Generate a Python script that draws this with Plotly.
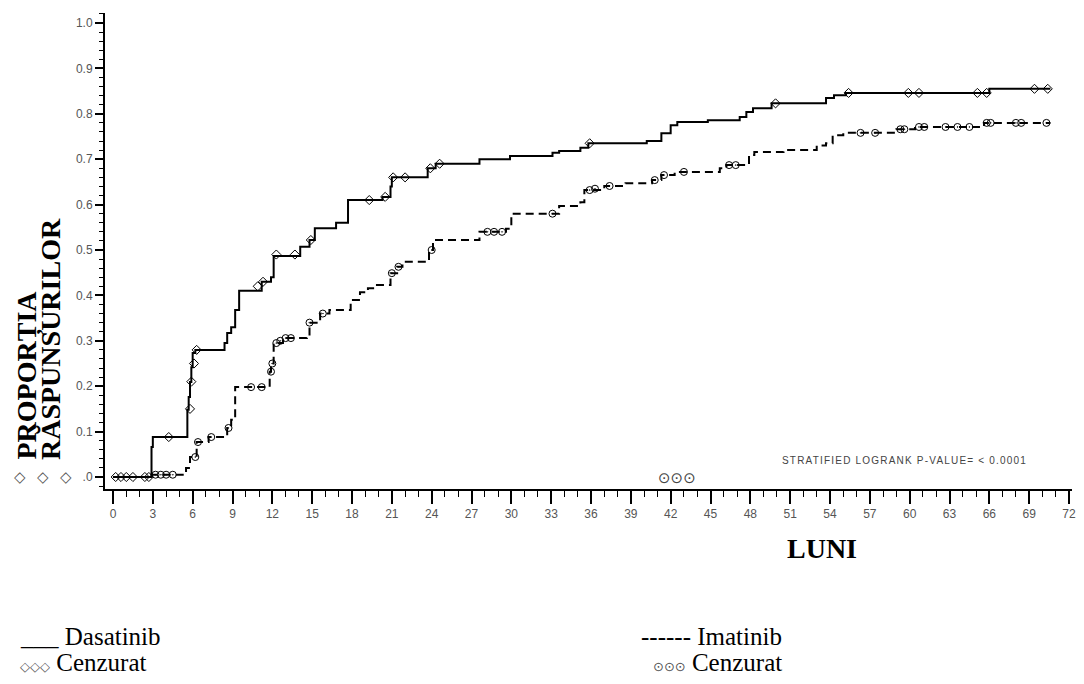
import plotly.graph_objects as go

# ---------------- data ----------------
# Dasatinib: step function (month of change, cumulative proportion)
das_months = [0, 2.9, 3.0, 5.6, 5.7, 5.8, 5.9, 6.0, 6.2, 8.4, 8.6, 8.9, 9.2, 9.5, 11.2, 11.9, 12.1,
              14.1, 14.8, 15.2, 16.8, 17.7, 20.3, 20.9, 21.0, 23.7, 24.3, 27.6, 29.9, 33.1, 33.6,
              35.2, 35.8, 40.2, 41.3, 42.0, 42.5, 44.8, 47.2, 47.7, 48.2, 49.6, 53.7, 54.3, 55.2,
              66.0, 70.6]
das_values = [0, 0.066, 0.088, 0.148, 0.176, 0.209, 0.242, 0.273, 0.28, 0.295, 0.317, 0.33, 0.368,
              0.41, 0.43, 0.44, 0.487, 0.507, 0.522, 0.548, 0.56, 0.61, 0.617, 0.64, 0.66, 0.68,
              0.69, 0.70, 0.707, 0.714, 0.718, 0.725, 0.735, 0.74, 0.757, 0.775, 0.782, 0.786,
              0.793, 0.804, 0.812, 0.823, 0.835, 0.841, 0.846, 0.855, 0.855]

das_cens_months = [0.2, 0.6, 1.0, 1.5, 2.4, 2.7, 4.2, 5.8, 5.9, 6.1, 6.3, 10.9, 11.3, 12.3, 13.7,
                   14.9, 19.3, 20.5, 21.1, 22.0, 23.9, 24.6, 35.9, 49.9, 55.4, 59.9, 60.7, 65.1,
                   65.8, 69.4, 70.4]
das_cens_values = [0, 0, 0, 0, 0, 0, 0.088, 0.15, 0.21, 0.25, 0.28, 0.42, 0.43, 0.49, 0.49,
                   0.522, 0.61, 0.617, 0.66, 0.66, 0.68, 0.69, 0.735, 0.823, 0.846, 0.846, 0.846,
                   0.846, 0.846, 0.855, 0.855]

# Imatinib
ima_months = [0, 2.9, 5.5, 5.8, 6.3, 7.2, 8.6, 8.9, 9.2, 11.8, 11.9, 12.1, 12.8, 14.6, 14.8, 15.6,
              16.3, 17.9, 18.6, 19.2, 19.8, 20.9, 21.4, 21.8, 23.8, 24.1, 27.6, 29.6, 30.0, 33.6,
              35.2, 35.5, 37.0, 38.6, 40.6, 41.3, 42.3, 45.7, 46.2, 47.9, 48.3, 50.5, 53.0, 53.7,
              54.2, 55.0, 59.0, 60.4, 65.6, 70.6]
ima_values = [0, 0.005, 0.02, 0.044, 0.077, 0.088, 0.108, 0.126, 0.198, 0.232, 0.25, 0.295, 0.306,
              0.31, 0.34, 0.36, 0.368, 0.39, 0.407, 0.416, 0.423, 0.449, 0.463, 0.474, 0.50, 0.522,
              0.54, 0.547, 0.58, 0.597, 0.605, 0.632, 0.641, 0.647, 0.654, 0.665, 0.672, 0.68,
              0.687, 0.709, 0.716, 0.72, 0.73, 0.735, 0.753, 0.758, 0.766, 0.771, 0.78, 0.78]

ima_cens_months = [3.2, 3.6, 4.0, 4.5, 6.2, 6.4, 7.4, 8.7, 10.4, 11.2, 11.9, 12.0, 12.3, 12.6, 13.0,
                   13.4, 14.8, 15.8, 21.0, 21.5, 24.0, 28.2, 28.7, 29.3, 33.1, 35.9, 36.3, 37.4,
                   40.8, 41.5, 43.0, 46.4, 46.9, 56.3, 57.4, 59.3, 59.6, 60.7, 61.1, 62.7, 63.6,
                   64.5, 65.8, 66.1, 68.0, 68.4, 70.3]
ima_cens_values = [0.005, 0.005, 0.005, 0.005, 0.044, 0.077, 0.088, 0.108, 0.198, 0.198, 0.232,
                   0.25, 0.295, 0.3, 0.306, 0.306, 0.34, 0.36, 0.449, 0.463, 0.50, 0.54, 0.54, 0.54,
                   0.58, 0.632, 0.635, 0.641, 0.654, 0.665, 0.672, 0.687, 0.687, 0.758, 0.758,
                   0.766, 0.766, 0.771, 0.771, 0.771, 0.771, 0.771, 0.78, 0.78, 0.78, 0.78, 0.78]

x_ticks = list(range(0, 73, 3))
y_tickvals = [round(i * 0.1, 1) for i in range(11)]
y_ticktext = [".0", "0.1", "0.2", "0.3", "0.4", "0.5", "0.6", "0.7", "0.8", "0.9", "1.0"]

# ---------------- layout geometry ----------------
# the page body adds an 8px margin, so the figure is drawn 8px smaller and positions
# below are given in window pixels and shifted by OFF.
OFF = 8
W, H = 1084 - OFF, 684 - OFF
PLOT_L, PLOT_R, PLOT_T, PLOT_B = 105, 1072, 13, 489   # window pixels
ML, MR, MT, MB = PLOT_L - OFF, 1084 - PLOT_R, PLOT_T - OFF, 684 - PLOT_B
PW, PH = W - ML - MR, H - MT - MB


def px(xp):
    return (xp - PLOT_L) / PW


def py(yp):
    return (PLOT_B - yp) / PH


fig = go.Figure()

fig.add_trace(go.Scatter(x=das_months, y=das_values, mode="lines", line_shape="hv",
                         line=dict(color="black", width=2), showlegend=False))
fig.add_trace(go.Scatter(x=ima_months, y=ima_values, mode="lines", line_shape="hv",
                         line=dict(color="black", width=2, dash="8px,5px"), showlegend=False))
fig.add_trace(go.Scatter(x=das_cens_months, y=das_cens_values, mode="markers",
                         marker=dict(symbol="diamond-open", size=7, color="black",
                                     line=dict(width=1)), showlegend=False))
fig.add_trace(go.Scatter(x=ima_cens_months, y=ima_cens_values, mode="markers",
                         marker=dict(symbol="circle-open-dot", size=7, color="black",
                                     line=dict(width=1)), showlegend=False))

tickfont = dict(family="Liberation Sans, Arial", size=12, color="#555555")

# month 0 -> window px 113, month 72 -> window px 1069
ppm = (1069 - 113) / 72
x_lo = (PLOT_L - 113) / ppm
x_hi = 72 + (PLOT_R - 1069) / ppm
# value 0 -> window py 477, value 1 -> py 23
ppv = 454
y_lo = -(PLOT_B - 477) / ppv
y_hi = 1 + (23 - PLOT_T) / ppv

fig.update_xaxes(range=[x_lo, x_hi], tickvals=x_ticks, ticks="outside", ticklen=13, tickwidth=2,
                 tickcolor="black", showline=True, linecolor="black", linewidth=2,
                 showgrid=False, zeroline=False, tickfont=tickfont, ticklabeloverflow="allow",
                 minor=dict(dtick=1, tick0=0, ticks="outside", ticklen=6, tickwidth=1,
                            tickcolor="black", showgrid=False))
fig.update_yaxes(range=[y_lo, y_hi], tickvals=y_tickvals, ticktext=y_ticktext,
                 ticks="outside", ticklen=8, tickwidth=2, tickcolor="black", showline=True,
                 linecolor="black", linewidth=2, showgrid=False, zeroline=False,
                 tickfont=tickfont,
                 minor=dict(dtick=0.02, tick0=0, ticks="outside", ticklen=4, tickwidth=1,
                            tickcolor="black", showgrid=False))

serif = "Liberation Serif, Times New Roman, serif"
ann = []
ann.append(dict(x=px(27), y=py(462), text="<b>PROPORȚIA</b>", textangle=-90, showarrow=False,
                xanchor="center", yanchor="bottom", font=dict(family=serif, size=28, color="black")))
ann.append(dict(x=px(50), y=py(462), text="<b>RĂSPUNSURILOR</b>", textangle=-90,
                showarrow=False, xanchor="center", yanchor="bottom",
                font=dict(family=serif, size=28, color="black")))
ann.append(dict(x=px(822), y=py(548), text="<b>LUNI</b>", showarrow=False, xanchor="center",
                yanchor="middle", font=dict(family=serif, size=28, color="black")))
ann.append(dict(x=px(780), y=py(460),
                text="<span style='letter-spacing:1.2px'>STRATIFIED LOGRANK P-VALUE= &lt; 0.0001</span>",
                showarrow=False, xanchor="left", yanchor="middle",
                font=dict(family="Liberation Sans, Arial", size=10, color="#444444")))
ann.append(dict(x=px(677), y=py(478), text="⊙⊙⊙", showarrow=False, xanchor="center",
                yanchor="middle", font=dict(family="DejaVu Sans", size=15, color="#444444")))
for cx in (20, 43, 66):
    ann.append(dict(x=px(cx), y=py(477), text="◇", showarrow=False, xanchor="center",
                    yanchor="middle", font=dict(family="DejaVu Sans", size=15, color="#555555")))
# bottom legend text
ann.append(dict(x=px(18), y=py(636), text="___ Dasatinib", showarrow=False, xanchor="left",
                yanchor="middle", font=dict(family=serif, size=25, color="black")))
ann.append(dict(x=px(18), y=py(662),
                text="<span style='font-family:DejaVu Sans;font-size:13px;color:#555'>◇◇◇</span> Cenzurat",
                showarrow=False, xanchor="left", yanchor="middle",
                font=dict(family=serif, size=25, color="black")))
ann.append(dict(x=px(639), y=py(636), text="------ Imatinib", showarrow=False, xanchor="left",
                yanchor="middle", font=dict(family=serif, size=25, color="black")))
ann.append(dict(x=px(651), y=py(662),
                text="<span style='font-family:DejaVu Sans;font-size:13px;color:#555'>⊙⊙⊙</span> Cenzurat",
                showarrow=False, xanchor="left", yanchor="middle",
                font=dict(family=serif, size=25, color="black")))
for a in ann:
    a["xref"] = "paper"
    a["yref"] = "paper"

fig.update_layout(width=W, height=H, margin=dict(l=ML, r=MR, t=MT, b=MB),
                  paper_bgcolor="white", plot_bgcolor="white", annotations=ann,
                  showlegend=False)

fig.write_html("out.html")
